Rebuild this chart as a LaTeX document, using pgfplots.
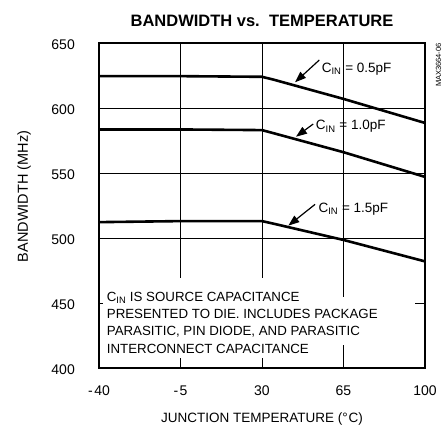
\documentclass[border=0pt]{standalone}
\usepackage{fontspec}
\setmainfont{Liberation Sans}
\usepackage{pgfplots}
\pgfplotsset{compat=1.18}
\usetikzlibrary{arrows.meta}
\begin{document}
\begin{tikzpicture}
\begin{axis}[name=ax, at={(0,0)}, anchor=south west,
  scale only axis, width=326pt, height=325pt,
  xmin=-40, xmax=100, ymin=400, ymax=650,
  xtick={-40,-5,30,65,100}, xticklabels={{-\kern1.5pt40},{-\kern1.5pt5},{30},{65},{100}},
  ytick={400,450,500,550,600,650}, yticklabels={400,450,500,550,600,650},
  major tick length=0pt,
  grid=major, major grid style={black, line width=0.6pt},
  axis line style={line width=2.6pt},
  ticklabel style={font=\fontsize{14}{14}\selectfont},
  xticklabel style={anchor=north, inner sep=0pt, yshift=-18pt},
  yticklabel style={anchor=east, inner sep=0pt, xshift=-24pt, yshift=-2pt},
  clip=false,
]
% white areas behind the note
\fill[white] (axis cs:-38.3,417.7) rectangle (axis cs:95.7,454.6);
\fill[white] (axis cs:-38.3,407.7) rectangle (axis cs:55,469.2);

\addplot[black, line width=2.6pt] coordinates {(-40,624.5) (-5,624.5) (30,624) (35,621.8) (65,607) (100,588.5)};
\addplot[black, line width=2.6pt] coordinates {(-40,583.5) (-5,583.5) (30,583) (35,580.6) (65,566) (100,547)};
\addplot[black, line width=2.6pt] coordinates {(-40,512.2) (-5,513) (30,513) (35,511) (65,498.5) (100,482)};

\draw[line width=1.2pt, -{Triangle[length=11pt,width=8pt]}] (axis cs:54.6,636.9) -- (axis cs:44.2,619.8);
\draw[line width=1.2pt, -{Triangle[length=11pt,width=8pt]}] (axis cs:52.0,587.7) -- (axis cs:44.6,577.9);
\draw[line width=1.2pt, -{Triangle[length=11pt,width=8pt]}] (axis cs:52.8,525.9) -- (axis cs:41.3,509.5);

\node[anchor=base west, inner sep=0pt, font=\fontsize{13.5}{13.5}\selectfont] at (axis cs:55.6,627.5) {C\textsubscript{IN} = 0.5pF};
\node[anchor=base west, inner sep=0pt, font=\fontsize{13.5}{13.5}\selectfont] at (axis cs:53.1,583.1) {C\textsubscript{IN} = 1.0pF};
\node[anchor=base west, inner sep=0pt, font=\fontsize{13.5}{13.5}\selectfont] at (axis cs:54.2,519.8) {C\textsubscript{IN} = 1.5pF};

\node[anchor=north west, inner sep=0pt, align=left, font=\fontsize{13.3}{17.4}\selectfont] at (axis cs:-36.7,458.7)
  {C\textsubscript{IN} IS SOURCE CAPACITANCE\\PRESENTED TO DIE. INCLUDES PACKAGE\\PARASITIC, PIN DIODE, AND PARASITIC\\INTERCONNECT CAPACITANCE};

\node[anchor=base, inner sep=0pt, font=\bfseries\fontsize{16.5}{16.5}\selectfont, yshift=17pt] at (rel axis cs:0.5,1) {BANDWIDTH vs.\ \ TEMPERATURE};
\node[anchor=base, inner sep=0pt, font=\fontsize{13.5}{13.5}\selectfont, yshift=-54pt] at (rel axis cs:0.5,0) {JUNCTION TEMPERATURE (°\kern1pt C)};
\node[xshift=-71pt, anchor=base, inner sep=0pt, rotate=90, font=\fontsize{14.5}{14.5}\selectfont] at (rel axis cs:0,0.528) {BANDWIDTH (MHz)};
\node[xshift=13.5pt, anchor=east, inner sep=0pt, rotate=90, font=\fontsize{7.5}{7.5}\selectfont] at (rel axis cs:1,1) {MAX3664-06};
\end{axis}
\pgfresetboundingbox
\path (ax.south west) ++(-99pt,-61pt) rectangle ++(447pt,429pt);
\end{tikzpicture}
\end{document}
